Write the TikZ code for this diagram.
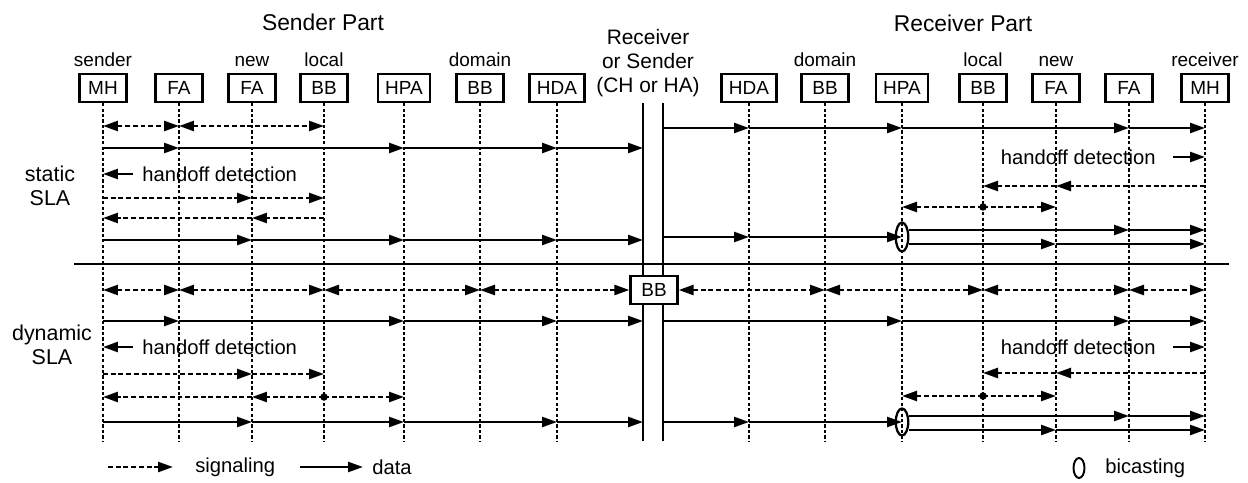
\documentclass[tikz,border=0pt]{standalone}
\usepackage{fontspec}
\setmainfont{Liberation Sans}
\usetikzlibrary{arrows.meta,positioning,shapes.geometric}

\tikzset{
  ent/.style={draw, line width=1.3pt, minimum width=0.94cm, minimum height=0.56cm,
    inner xsep=0.15cm, inner ysep=0pt, font=\fontsize{10.8}{12}\selectfont},
  toplbl/.style={inner sep=0pt, font=\fontsize{10.8}{12}\selectfont},
  hdr/.style={inner sep=0pt, font=\fontsize{13}{15}\selectfont},
  mid/.style={inner sep=0pt, align=center, font=\fontsize{11.9}{13.6}\selectfont},
  rowlbl/.style={inner sep=0pt, align=center, font=\fontsize{12.2}{13.6}\selectfont},
  txt/.style={inner sep=0pt, font=\fontsize{11.5}{13}\selectfont},
  life/.style={line width=0.7pt, dash pattern=on 1.8pt off 1.3pt},
  bar/.style={line width=1.2pt},
  sig/.style={line width=1.4pt, dash pattern=on 2.8pt off 1.6pt},
  data/.style={line width=1.4pt},
  bicast/.style={draw, ellipse, line width=1.3pt, inner sep=0pt, minimum width=0.25cm, minimum height=0.58cm},
  dot/.style={circle, fill, inner sep=0pt, minimum size=0.15cm}
}

\begin{document}
\begin{tikzpicture}[x=0.02cm, y=-0.02cm, >={Triangle[length=0.3cm,width=0.2cm]}]
\useasboundingbox (0,0) rectangle (1248,483);

% headers
\node[hdr] at (323,22) {Sender Part};
\node[hdr] at (963,23) {Receiver Part};
\node[mid] (rs) at (648,63) {Receiver\\or Sender\\(CH or HA)};

% entities
\foreach \n/\x/\t in {sMH/103/MH, sFA/179/FA, sNFA/252/FA, sLBB/324/BB, sHPA/404/HPA,
    sDBB/480/BB, sHDA/557/HDA, rHDA/749/HDA, rDBB/825/BB, rHPA/902/HPA,
    rLBB/983/BB, rNFA/1056/FA, rFA/1129/FA, rMH/1205/MH}
  \node[ent] (\n) at (\x,88) {\t};
\node[toplbl, above=0.12cm of sMH] {sender};
\node[toplbl, above=0.12cm of sNFA] {new};
\node[toplbl, above=0.12cm of sLBB] {local};
\node[toplbl, above=0.12cm of sDBB] {domain};
\node[toplbl, above=0.12cm of rDBB] {domain};
\node[toplbl, above=0.12cm of rLBB] {local};
\node[toplbl, above=0.12cm of rNFA] {new};
\node[toplbl, above=0.12cm of rMH] {receiver};

% lifelines
\coordinate (bot) at (0,441);
\foreach \n in {sMH,sFA,sNFA,sLBB,sHPA,sDBB,sHDA,rHDA,rDBB,rHPA,rLBB,rNFA,rFA,rMH}
  \draw[life] (\n.south) -- (\n |- bot);

% the two bars
\coordinate (barL) at (643,103);
\coordinate (barR) at (663,103);
\draw[bar] (barL) -- (barL |- bot);
\draw[bar] (barR) -- (barR |- bot);

% separator
\coordinate (sepL) at (74,264);
\coordinate (sepR) at (1229,264);
\draw[line width=1.2pt] (sepL) -- (sepR);

% BB in the middle
\node[ent, fill=white] (bbC) at (654,290) {BB};

% rows
\foreach \r/\y in {s1/126, r1/128, s2/148, s3/174, r3/157, s4/198, r4/186, s5/218,
    r5/207, s6/240, r6/237, r6a/230, r6b/244, d1/290, d2/321, d3/347, d4/374,
    dr4/373, d5/397, dr5/396, d6/422, dr6a/416, dr6b/430}
  \coordinate (\r) at (0,\y);

\node[rowlbl] at (50,186) {static\\SLA};
\node[rowlbl] at (52,345) {dynamic\\SLA};

% static, sender part
\draw[sig,<->] (sMH |- s1) -- (sFA |- s1);
\draw[sig,<->] (sFA |- s1) -- (sLBB |- s1);
\foreach \a/\b in {sMH/sFA, sFA/sHPA, sHPA/sHDA, sHDA/barL}
  \draw[data,->] (\a |- s2) -- (\b |- s2);
\node[txt, anchor=west] (hoS) at (142,174) {handoff detection};
\draw[data,->] ([xshift=-0.18cm]hoS.west) -- (sMH |- hoS);
\draw[sig,->] (sMH |- s4) -- (sNFA |- s4);
\draw[sig,->] (sNFA |- s4) -- (sLBB |- s4);
\draw[sig,->] (sLBB |- s5) -- (sNFA |- s5);
\draw[sig,->] (sNFA |- s5) -- (sMH |- s5);
\foreach \a/\b in {sMH/sNFA, sNFA/sHPA, sHPA/sHDA, sHDA/barL}
  \draw[data,->] (\a |- s6) -- (\b |- s6);

% static, receiver part
\foreach \a/\b in {barR/rHDA, rHDA/rHPA, rHPA/rFA, rFA/rMH}
  \draw[data,->] (\a |- r1) -- (\b |- r1);
\node[txt, anchor=east] (hoR) at (1156,157) {handoff detection};
\draw[data,->] ([xshift=0.34cm]hoR.east) -- (rMH |- hoR);
\draw[sig,->] (rMH |- r4) -- (rNFA |- r4);
\draw[sig,->] (rNFA |- r4) -- (rLBB |- r4);
\draw[sig,->] (rLBB |- r5) -- (rHPA |- r5);
\draw[sig,->] (rLBB |- r5) -- (rNFA |- r5);
\node[dot] at (rLBB |- r5) {};
\node[bicast] (bcS) at (902,237) {};
\draw[data,->] (barR |- r6) -- (rHDA |- r6);
\draw[data,->] (rHDA |- r6) -- (bcS.center);
\draw[data,->] (bcS.east |- r6a) -- (rFA |- r6a);
\draw[data,->] (rFA |- r6a) -- (rMH |- r6a);
\draw[data,->] (bcS.east |- r6b) -- (rNFA |- r6b);
\draw[data,->] (rNFA |- r6b) -- (rMH |- r6b);

% dynamic, sender part
\foreach \a/\b in {sMH/sFA, sFA/sLBB, sLBB/sDBB}
  \draw[sig,<->] (\a |- d1) -- (\b |- d1);
\draw[sig,<->] (sDBB |- d1) -- (bbC.west);
\foreach \a/\b in {sMH/sFA, sFA/sHPA, sHPA/sHDA, sHDA/barL}
  \draw[data,->] (\a |- d2) -- (\b |- d2);
\node[txt, anchor=west] (hoSd) at (142,347) {handoff detection};
\draw[data,->] ([xshift=-0.18cm]hoSd.west) -- (sMH |- hoSd);
\draw[sig,->] (sMH |- d4) -- (sNFA |- d4);
\draw[sig,->] (sNFA |- d4) -- (sLBB |- d4);
\draw[sig,->] (sLBB |- d5) -- (sHPA |- d5);
\draw[sig,->] (sLBB |- d5) -- (sNFA |- d5);
\draw[sig,->] (sNFA |- d5) -- (sMH |- d5);
\node[dot] at (sLBB |- d5) {};
\foreach \a/\b in {sMH/sNFA, sNFA/sHPA, sHPA/sHDA, sHDA/barL}
  \draw[data,->] (\a |- d6) -- (\b |- d6);

% dynamic, receiver part
\draw[sig,<->] (bbC.east) -- (rDBB |- d1);
\foreach \a/\b in {rDBB/rLBB, rLBB/rFA, rFA/rMH}
  \draw[sig,<->] (\a |- d1) -- (\b |- d1);
\foreach \a/\b in {barR/rHPA, rHPA/rFA, rFA/rMH}
  \draw[data,->] (\a |- d2) -- (\b |- d2);
\node[txt, anchor=east] (hoRd) at (1156,347) {handoff detection};
\draw[data,->] ([xshift=0.34cm]hoRd.east) -- (rMH |- hoRd);
\draw[sig,->] (rMH |- dr4) -- (rNFA |- dr4);
\draw[sig,->] (rNFA |- dr4) -- (rLBB |- dr4);
\draw[sig,->] (rLBB |- dr5) -- (rHPA |- dr5);
\draw[sig,->] (rLBB |- dr5) -- (rNFA |- dr5);
\node[dot] at (rLBB |- dr5) {};
\node[bicast, minimum height=0.54cm] (bcD) at (902,422) {};
\draw[data,->] (barR |- d6) -- (rHDA |- d6);
\draw[data,->] (rHDA |- d6) -- (bcD.center);
\draw[data,->] (bcD.east |- dr6a) -- (rFA |- dr6a);
\draw[data,->] (rFA |- dr6a) -- (rMH |- dr6a);
\draw[data,->] (bcD.east |- dr6b) -- (rNFA |- dr6b);
\draw[data,->] (rNFA |- dr6b) -- (rMH |- dr6b);

% legend
\coordinate (lgSa) at (108,467);
\node[txt, anchor=west] (lgS) at (195,467) {signaling};
\draw[sig,->] (lgSa) -- ([xshift=-0.44cm]lgS.west);
\coordinate (lgDa) at (300,467);
\node[txt, anchor=west] (lgD) at (372,467) {data};
\draw[data,->] (lgDa) -- ([xshift=-0.18cm]lgD.west);
\node[bicast, line width=1.1pt, minimum width=0.22cm, minimum height=0.4cm] (lgB) at (1079,468) {};
\node[txt, anchor=west] (lgBt) at (1105,468) {bicasting};
\end{tikzpicture}
\end{document}
